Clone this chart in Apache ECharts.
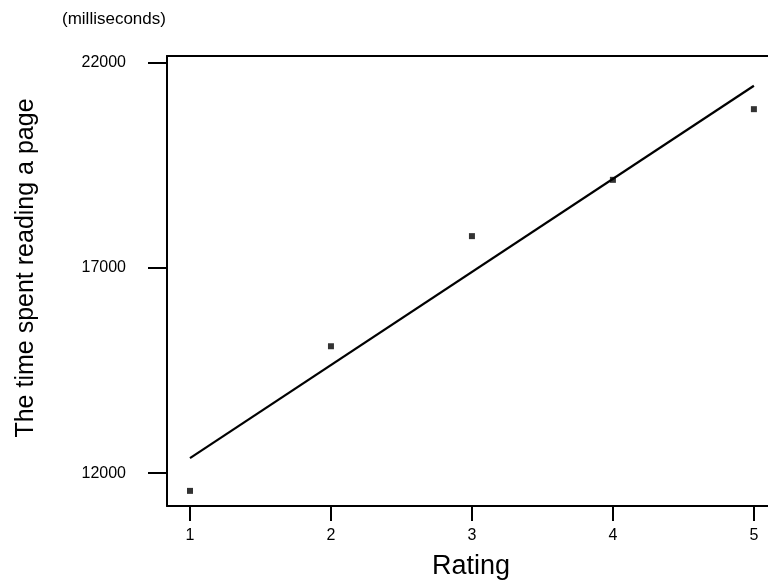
<!DOCTYPE html>
<html>
<head>
<meta charset="utf-8">
<script src="https://cdn.jsdelivr.net/npm/echarts@6/dist/echarts.min.js"></script>
<style>
  html, body { margin: 0; padding: 0; background: #fff; }
  #chart { width: 768px; height: 584px; }
</style>
</head>
<body>
<div id="chart"></div>
<script>
// Rating categories on the x axis
const ratings = [1, 2, 3, 4, 5];
// Mean reading time per rating (milliseconds)
const readingTime = [11570, 15090, 17770, 19140, 20860];
// Fitted line values at rating 1 and rating 5
const fitRatings = [1, 5];
const fitValues = [12366, 21429];
// Tick labels
const xTicks = [1, 2, 3, 4, 5];
const yTicks = [12000, 17000, 22000];

const FONT = '"Liberation Sans", Arial, sans-serif';

const chart = echarts.init(document.getElementById('chart'), null, { renderer: 'canvas' });

const points = ratings.map((r, i) => [r, readingTime[i]]);
const fit = fitRatings.map((r, i) => [r, fitValues[i]]);

chart.setOption({
  animation: false,
  backgroundColor: '#ffffff',
  grid: { left: 167, top: 56, right: 0, bottom: 78, containLabel: false },
  xAxis: [
    {
      type: 'value',
      min: 0.837,
      max: 5.1,
      position: 'bottom',
      axisLine: { show: true, onZero: false, lineStyle: { color: '#000', width: 2 } },
      axisTick: { show: true, inside: false, length: 15, customValues: xTicks, lineStyle: { color: '#000', width: 2 } },
      axisLabel: {
        show: true, margin: 22, customValues: xTicks, color: '#000', fontSize: 16, fontFamily: FONT,
        formatter: (v) => String(v)
      },
      splitLine: { show: false }
    },
    {
      type: 'value',
      min: 0.837,
      max: 5.1,
      position: 'top',
      axisLine: { show: true, onZero: false, lineStyle: { color: '#000', width: 2 } },
      axisTick: { show: false },
      axisLabel: { show: false },
      splitLine: { show: false }
    }
  ],
  yAxis: {
    type: 'value',
    min: 11202,
    max: 22154,
    axisLine: { show: true, onZero: false, lineStyle: { color: '#000', width: 2 } },
    axisTick: { show: true, inside: false, length: 19, customValues: yTicks, lineStyle: { color: '#000', width: 2 } },
    axisLabel: {
      show: true, margin: 41, customValues: yTicks, color: '#000', fontSize: 16, fontFamily: FONT,
      formatter: (v) => String(v)
    },
    splitLine: { show: false }
  },
  series: [
    {
      type: 'line',
      data: fit,
      showSymbol: false,
      symbol: 'none',
      lineStyle: { color: '#000', width: 2.2 },
      z: 2
    },
    {
      type: 'scatter',
      data: points,
      symbol: 'rect',
      symbolSize: 6,
      itemStyle: { color: '#000' },
      z: 3
    }
  ],
  graphic: [
    {
      type: 'text',
      left: 62,
      top: 11,
      style: { text: '(milliseconds)', fill: '#000', font: '17px ' + FONT }
    },
    {
      type: 'text',
      x: 26,
      y: 268,
      rotation: Math.PI / 2,
      style: {
        text: 'The time spent reading a page',
        fill: '#000',
        font: '25px ' + FONT,
        align: 'center',
        verticalAlign: 'middle'
      }
    },
    {
      type: 'text',
      x: 471,
      y: 567,
      style: {
        text: 'Rating',
        fill: '#000',
        font: '27px ' + FONT,
        align: 'center',
        verticalAlign: 'middle'
      }
    }
  ]
});
</script>
</body>
</html>
